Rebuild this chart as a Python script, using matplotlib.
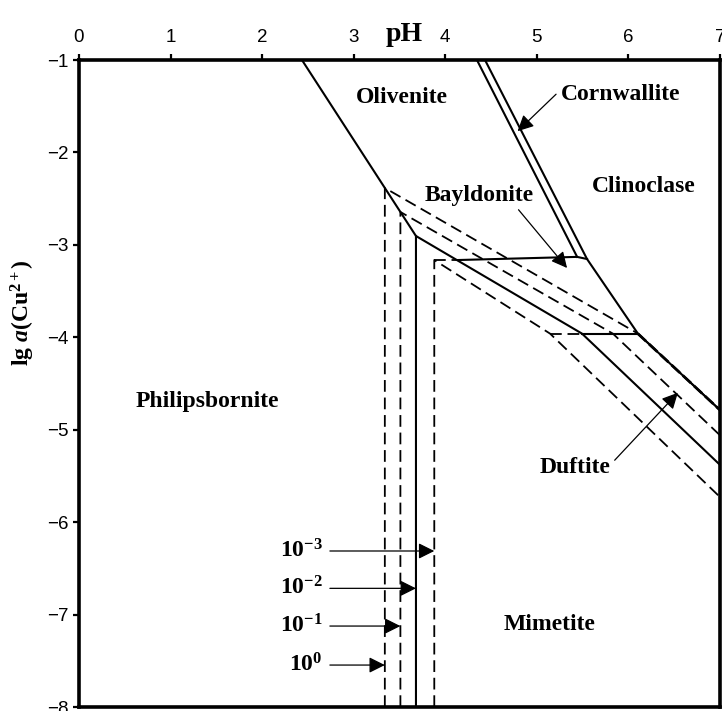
import matplotlib
matplotlib.use('Agg')
import matplotlib.pyplot as plt

plt.rcParams['font.family'] = ['Liberation Sans', 'DejaVu Sans']
plt.rcParams['mathtext.fontset'] = 'custom'
plt.rcParams['mathtext.rm'] = 'Liberation Serif:bold'
plt.rcParams['mathtext.bf'] = 'Liberation Serif:bold'
plt.rcParams['mathtext.it'] = 'Liberation Serif:bold:italic'

# boundaries common to all activities (pH, lg a(Cu2+))
olivenite_ph = [2.435, 3.68]
olivenite_lg = [-1.0, -2.904]
cornw_ph = [4.346, 5.44]
cornw_lg = [-1.0, -3.13]
clino_ph = [4.434, 5.548, 6.105, 7.0]
clino_lg = [-1.0, -3.153, -3.962, -4.787]
bayl_top_ph = [4.14, 5.44, 5.548]
bayl_top_lg = [-3.164, -3.13, -3.153]
duft_top_lg = -3.96

# mimetite boundaries for activities 10^0, 10^-1, 10^-2, 10^-3
act_labels = [r'$10^{0}$', r'$10^{-1}$', r'$10^{-2}$', r'$10^{-3}$']
mim_vert_ph = [3.34, 3.51, 3.68, 3.88]
mim_vert_top = [-2.384, -2.644, -2.904, -3.164]
kink_ph = [6.105, 5.83, 5.493, 5.144]
edge_lg = [-4.787, -5.06, -5.38, -5.728]
act_arrow_lg = [-7.546, -7.124, -6.716, -6.312]

minerals = ['Olivenite', 'Cornwallite', 'Clinoclase', 'Bayldonite',
            'Philipsbornite', 'Duftite', 'Mimetite']
mineral_ph = [3.53, 5.92, 6.17, 4.37, 1.40, 5.42, 5.14]
mineral_lg = [-1.41, -1.37, -2.37, -2.47, -4.70, -5.41, -7.11]

# pointer arrows: (tail, tip)
pointers = {'Cornwallite': ((5.21, -1.37), (4.79, -1.77)),
            'Bayldonite': ((4.80, -2.62), (5.33, -3.25)),
            'Duftite': ((5.85, -5.33), (6.54, -4.60))}

fig = plt.figure(figsize=(7.22, 7.11), dpi=100)
ax = fig.add_axes([0.1094, 0.0056, 0.8878, 0.91])
ax.set_xlim(0, 7)
ax.set_ylim(-8, -1)

solid = dict(color='black', lw=1.5, solid_joinstyle='miter')
dashed = dict(color='black', lw=1.3, linestyle=(0, (6.5, 3.2)))

ax.plot(olivenite_ph, olivenite_lg, **solid)
ax.plot(cornw_ph, cornw_lg, **solid)
ax.plot(clino_ph, clino_lg, **solid)
ax.plot(bayl_top_ph, bayl_top_lg, **solid)

for i in range(4):
    xs = [mim_vert_ph[i], mim_vert_ph[i], kink_ph[i], 7.0]
    ys = [-8, mim_vert_top[i], duft_top_lg, edge_lg[i]]
    if i == 2:
        ax.plot(xs, ys, **solid)
        ax.plot([kink_ph[i], 6.105], [duft_top_lg, duft_top_lg], **solid)
    else:
        ax.plot(xs, ys, **dashed)
        if kink_ph[i] < 6.105:
            ax.plot([kink_ph[i], 6.105], [duft_top_lg, duft_top_lg], **dashed)
# 10^-3 extension of bayldonite top boundary
ax.plot([mim_vert_ph[3], bayl_top_ph[0]], [mim_vert_top[3], bayl_top_lg[0]], **dashed)
# 10^0 follows the clinoclase boundary
ax.plot(clino_ph[2:], clino_lg[2:], color='black', lw=2.0, linestyle=(0, (4, 1.5)))

arrow = dict(arrowstyle='-|>', color='black', lw=0.9, mutation_scale=24,
             shrinkA=0, shrinkB=0)
for lab, x, y in zip(act_labels, mim_vert_ph, act_arrow_lg):
    ax.text(2.66, y, lab, ha='right', va='center', fontsize=17)
    ax.annotate('', xy=(x, y), xytext=(2.74, y), arrowprops=arrow)

for name, x, y in zip(minerals, mineral_ph, mineral_lg):
    ax.text(x, y, name, ha='center', va='center', fontsize=17,
            family='Liberation Serif', weight='bold')
for name, (tail, tip) in pointers.items():
    ax.annotate('', xy=tip, xytext=tail, arrowprops=arrow)

ax.xaxis.tick_top()
ax.set_xticks(range(8))
ax.set_yticks(range(-8, 0))
ax.set_yticklabels([f'\u2212{abs(v)}' for v in range(-8, 0)])
ax.tick_params(axis='both', labelsize=13.5, width=1.6, length=4, direction='out')
ax.tick_params(axis='x', pad=6)
for side in ax.spines.values():
    side.set_linewidth(2.6)

ax.text(3.55, -0.86, 'pH', ha='center', va='bottom', fontsize=20,
        family='Liberation Serif', weight='bold')
ax.text(-0.088, 0.609, r'$\mathrm{lg}\ a\mathrm{(Cu^{2+})}$', transform=ax.transAxes,
        rotation=90, ha='center', va='center', fontsize=17)

fig.savefig('out.png', dpi=100)
